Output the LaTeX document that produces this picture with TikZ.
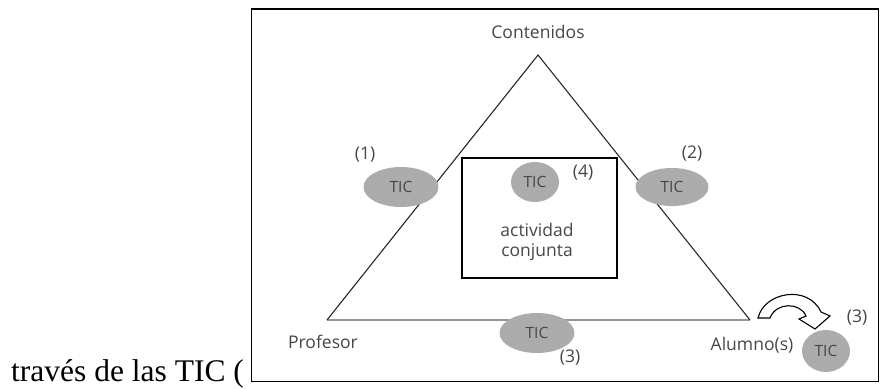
\documentclass[tikz,border=0pt]{standalone}
\usepackage{fontspec}
\setmainfont{Open Sans}
\newfontfamily\serifpara{Liberation Serif}
\usetikzlibrary{shapes.geometric}
\definecolor{ticgray}{RGB}{172,172,172}
\definecolor{txtgray}{RGB}{70,70,70}
\definecolor{basegray}{RGB}{150,150,150}
\tikzset{
  tic/.style={ellipse, fill=ticgray, draw=none, inner sep=0pt, text=txtgray, font=\fontsize{15.5}{17}\selectfont},
  lbl/.style={text=txtgray, inner sep=0pt, font=\fontsize{17.5}{20}\selectfont},
  side/.style={draw=black!85, line width=1.1pt},
  basel/.style={draw=basegray, line width=2pt},
}
\begin{document}
\begin{tikzpicture}[x=1pt,y=-1pt]
\useasboundingbox (0,0) rectangle (880,388);
% frame
\draw[line width=1.6pt] (251.5,9) rectangle (878.5,381.5);
% paragraph fragment
\node[anchor=base west, inner sep=0pt, font=\serifpara\fontsize{31.5}{34}\selectfont] (para) at (11,381) {través de las TIC (};
% triangle
\coordinate (apex) at (538,55);
\coordinate (prof) at (327,320);
\coordinate (alum) at (750,320);
\draw[basel] (prof) -- (alum);
\draw[side] (prof) -- (apex) -- (alum);
% inner box
\node[draw, line width=1.2pt, minimum width=155pt, minimum height=120pt, inner sep=0pt] (act) at (539.5,218) {};
\node[lbl] (actt) at (537,230) {actividad};
\node[lbl] (conj) at (537,252) {conjunta};
% vertex labels
\node[lbl] (cont) at (538,32) {Contenidos};
\node[lbl] (profl) at (323,342) {Profesor};
\node[lbl] (aluml) at (752,345) {Alumno(s)};
% TIC ellipses
\node[tic, minimum width=75pt, minimum height=40pt] (t1) at (401,187) {TIC};
\node[tic, minimum width=48pt, minimum height=40pt] (t4) at (535,182) {TIC};
\node[tic, minimum width=73pt, minimum height=38pt] (t2) at (672,187) {TIC};
\node[tic, minimum width=75pt, minimum height=40pt] (t3) at (537,333) {TIC};
\node[tic, minimum width=48pt, minimum height=42pt] (t5) at (826,351) {TIC};
% numbers
\node[lbl] (n1) at (365,155) {(1)};
\node[lbl] (n4) at (583,173) {(4)};
\node[lbl] (n2) at (692,154) {(2)};
\node[lbl] (n3) at (570,358) {(3)};
\node[lbl] (n3b) at (857,318) {(3)};
% curved block arrow
\draw[line width=1.1pt, fill=white, line join=miter]
  (758,318) .. controls (764,292) and (808,284) .. (821,312)
  -- (830,316) -- (815,329) -- (799,319) -- (806,316)
  .. controls (800,302) and (776,302) .. (770,318) -- cycle;
\end{tikzpicture}
\end{document}
